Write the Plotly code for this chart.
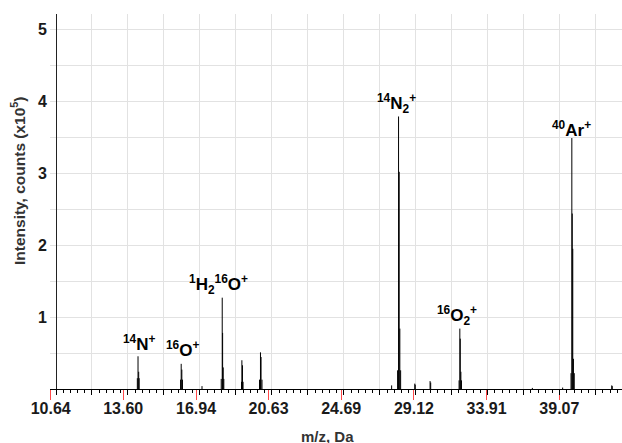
import numpy as np
import plotly.graph_objects as go

# ---- data -------------------------------------------------------------
tick_labels_mz = [10.64, 13.60, 16.94, 20.63, 24.69, 29.12, 33.91, 39.07]

# stick spectrum (m/z, intensity in 1e5 counts)
stick_mz = [14.22, 14.25, 14.28, 14.30,
            16.20, 16.23, 16.26, 16.29,
            17.23,
            18.18, 18.23, 18.25, 18.28, 18.31,
            19.21, 19.23, 19.26, 19.29,
            20.15, 20.20, 20.23, 20.28,
            27.72,
            28.09, 28.15, 28.19, 28.23, 28.28,
            29.17, 29.20,
            30.15, 30.19,
            32.05, 32.10, 32.13, 32.17, 32.21,
            37.11,
            39.31,
            39.93, 39.99, 40.02, 40.06, 40.11, 40.17,
            43.01, 43.05]
stick_int = [0.15, 0.455, 0.24, 0.15,
             0.13, 0.35, 0.27, 0.13,
             0.04,
             0.14, 1.27, 0.78, 0.30, 0.14,
             0.10, 0.40, 0.33, 0.10,
             0.13, 0.51, 0.445, 0.13,
             0.05,
             0.26, 3.79, 3.02, 0.84, 0.26,
             0.075, 0.06,
             0.11, 0.09,
             0.12, 0.84, 0.70, 0.24, 0.12,
             0.015,
             0.02,
             0.22, 3.49, 2.44, 1.95, 0.42, 0.22,
             0.05, 0.04]

peak_labels = ["<sup>14</sup>N<sup>+</sup>",
               "<sup>16</sup>O<sup>+</sup>",
               "<sup>1</sup>H<sub>2</sub><sup>16</sup>O<sup>+</sup>",
               "<sup>14</sup>N<sub>2</sub><sup>+</sup>",
               "<sup>16</sup>O<sub>2</sub><sup>+</sup>",
               "<sup>40</sup>Ar<sup>+</sup>"]
label_mz = [14.32, 16.29, 18.02, 28.03, 31.89, 39.93]
label_y = [0.64, 0.55, 1.456, 3.97, 1.025, 3.612]

# ---- axis geometry (time-of-flight axis: linear in sqrt(m/z)) ----------
t_left, t_right = 3.25779, 6.61850
t_grid0 = 3.29304
grid_step = 0.211399
small_step = grid_step / 5
y_max = 5.215

FONT = "Arial, Liberation Sans, sans-serif"

xs, ys = [], []
for m, v in zip(stick_mz, stick_int):
    t = np.sqrt(m)
    xs += [t, t, None]
    ys += [0, v, None]

fig = go.Figure()
fig.add_trace(go.Scatter(x=xs, y=ys, mode="lines",
                         line=dict(color="black", width=1),
                         hoverinfo="skip", showlegend=False))
fig.add_trace(go.Scatter(x=[None], y=[None], xaxis="x2", mode="lines",
                         showlegend=False, hoverinfo="skip"))

for txt, m, yv in zip(peak_labels, label_mz, label_y):
    fig.add_annotation(x=np.sqrt(m), y=yv, text=txt, showarrow=False,
                       xanchor="center", yanchor="middle",
                       font=dict(family=FONT, size=17, color="black", weight="bold"))

# y-axis title and x-axis title
fig.add_annotation(xref="paper", yref="paper", x=(18 - 50) / 572, y=(389 - 181) / 375,
                   text="Intensity, counts (x10<sup>5</sup>)", textangle=-90,
                   showarrow=False, xanchor="center", yanchor="middle",
                   font=dict(family=FONT, size=15.5, color="#333333", weight="bold"))
fig.add_annotation(xref="paper", yref="paper", x=(327 - 50) / 572, y=(389 - 426) / 375,
                   text="m/z, Da", showarrow=False, xanchor="center", yanchor="top",
                   font=dict(family=FONT, size=15, color="#333333", weight="bold"))

# blank regions without grid (left of y axis, right of last gridline)
px = (t_right - t_left) / 572
fig.add_shape(type="rect", layer="between", xref="x", yref="paper",
              x0=t_left, x1=t_left + 5.6 * px, y0=0, y1=1,
              fillcolor="white", line_width=0)
fig.add_shape(type="rect", layer="between", xref="x", yref="paper",
              x0=t_grid0 + 15 * grid_step + 0.7 * px, x1=t_right, y0=0, y1=1,
              fillcolor="white", line_width=0)

grid_col = "#e2e2e2"
fig.update_layout(
    width=622, height=443, autosize=False,
    margin=dict(l=50, r=0, t=14, b=54, autoexpand=False),
    paper_bgcolor="white", plot_bgcolor="white",
    showlegend=False,
    xaxis=dict(range=[t_left, t_right], automargin=False,
               tickmode="array",
               tickvals=[float(np.sqrt(v)) for v in tick_labels_mz],
               ticktext=[f"{v:.2f}" for v in tick_labels_mz],
               ticks="outside", ticklen=10, tickwidth=1, tickcolor="#ff4a4a",
               showgrid=False, zeroline=False,
               showline=True, linecolor="black", linewidth=1,
               tickfont=dict(family=FONT, size=16, color="#1a1a1a", weight="bold"),
               ticklabelstandoff=-5,
               minor=dict(tick0=t_grid0, dtick=small_step, ticks="outside",
                          ticklen=3, tickcolor="black", tickwidth=1, showgrid=False),
               fixedrange=True),
    xaxis2=dict(range=[t_left, t_right], overlaying="x", anchor="y", side="bottom",
                automargin=False,
                tick0=t_grid0, dtick=grid_step, ticks="outside", ticklen=5,
                tickcolor="black", tickwidth=1, showticklabels=False,
                showgrid=True, gridcolor=grid_col, gridwidth=1,
                zeroline=False, showline=False, fixedrange=True),
    yaxis=dict(range=[0, y_max], anchor="free", position=6 / 572, automargin=False,
               tickmode="array", tickvals=[1, 2, 3, 4, 5],
               ticks="", showgrid=True, gridcolor=grid_col, gridwidth=1,
               minor=dict(dtick=0.5, tick0=0, showgrid=True, gridcolor=grid_col, gridwidth=1),
               zeroline=False, showline=True, linecolor="#222222", linewidth=1,
               tickfont=dict(family=FONT, size=16, color="#1a1a1a", weight="bold"),
               ticklabelstandoff=6,
               fixedrange=True),
)

fig.write_html("out.html", config={"displayModeBar": False},
               post_script="document.body.style.margin='0';document.body.style.overflow='hidden';")
